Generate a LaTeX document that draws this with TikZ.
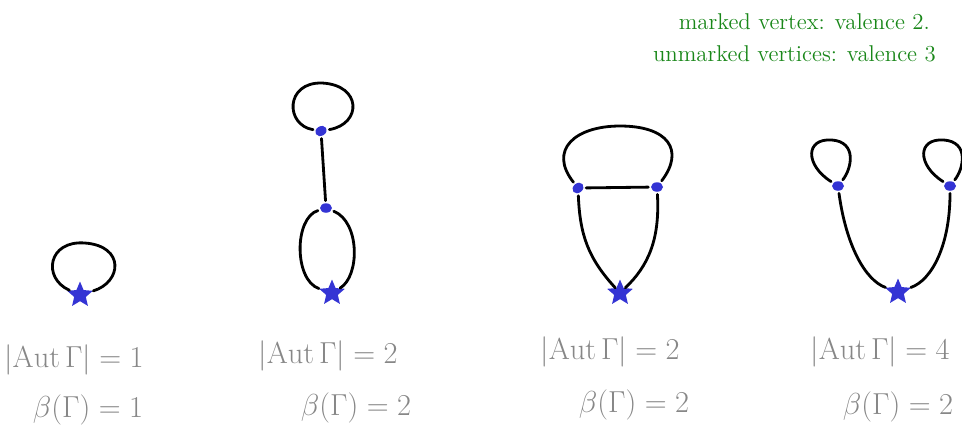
\documentclass[tikz,border=0pt]{standalone}
\usepackage{amsmath,amssymb}
\usetikzlibrary{shapes.geometric}
\definecolor{penblue}{RGB}{52,52,212}
\definecolor{pengreen}{RGB}{25,135,25}
\definecolor{pengray}{RGB}{135,135,135}

\begin{document}
\begin{tikzpicture}[x=0.02cm,y=-0.02cm,
  vert/.style={ellipse,fill=penblue,minimum width=0.24cm,minimum height=0.19cm,inner sep=0pt,outer sep=1.5pt},
  basept/.style={star,star points=5,star point ratio=2.2,fill=penblue,minimum size=0.54cm,inner sep=0pt},
  curve/.style={line width=1.6pt,line cap=round},
  lbl/.style={text=pengray,font=\fontsize{19}{22}\selectfont},
  note/.style={text=pengreen,font=\fontsize{13}{15}\selectfont,anchor=east}]
\useasboundingbox (0,0) rectangle (962,434);

% legend
\node (mk) at (936,22) [note] {marked vertex: valence 2.};
\node (um) at (942,54) [note] {unmarked vertices: valence 3};

% graph 1: one loop
\node (s1) at (80,295) [basept] {};
\draw[curve] (s1) .. controls (42,278) and (48,240) .. (85,243) .. controls (125,246) and (122,282) .. (s1);

% graph 2: loop -- edge -- double edge
\node (t2) at (321,131) [vert,rotate=30] {};
\node (m2) at (326,208) [vert] {};
\node (s2) at (332,293) [basept] {};
\draw[curve] (t2) .. controls (285,125) and (285,82) .. (322,83) .. controls (362,85) and (362,124) .. (t2);
\draw[curve] (t2) -- (m2);
\draw[curve] (m2) .. controls (294,218) and (294,280) .. (s2);
\draw[curve] (m2) .. controls (360,222) and (360,276) .. (s2);

% graph 3: theta-like graph with base point
\node (a3) at (578,188) [vert,rotate=40] {};
\node (b3) at (657,187) [vert] {};
\node (s3) at (620,293) [basept] {};
\draw[curve] (a3) -- (b3);
\draw[curve] (a3) .. controls (548,150) and (575,126) .. (620,126) .. controls (668,126) and (685,150) .. (b3);
\draw[curve] (a3) .. controls (580,235) and (588,258) .. (s3);
\draw[curve] (b3) .. controls (660,240) and (648,266) .. (s3);

% graph 4: two loops hanging from base point
\node (a4) at (838,186) [vert] {};
\node (b4) at (950,186) [vert] {};
\node (s4) at (898,292) [basept] {};
\draw[curve] (a4) .. controls (805,165) and (805,138) .. (832,140) .. controls (857,142) and (852,168) .. (a4);
\draw[curve] (b4) .. controls (917,165) and (917,138) .. (944,140) .. controls (969,142) and (964,168) .. (b4);
\draw[curve] (a4) .. controls (846,245) and (865,280) .. (s4);
\draw[curve] (b4) .. controls (950,245) and (932,280) .. (s4);

% labels
\foreach \n/\x/\y/\aut in {1/74/360/1,2/328/356/2,3/610/352/2,4/880/352/4} {
  \node (aut\n) at (\x,\y) [lbl] {$|\mathrm{Aut}\,\Gamma| = \aut$};
}
\foreach \n/\x/\y/\b in {1/88/410/1,2/356/408/2,3/634/405/2,4/898/407/2} {
  \node (beta\n) at (\x,\y) [lbl] {$\beta(\Gamma) = \b$};
}
\end{tikzpicture}
\end{document}
